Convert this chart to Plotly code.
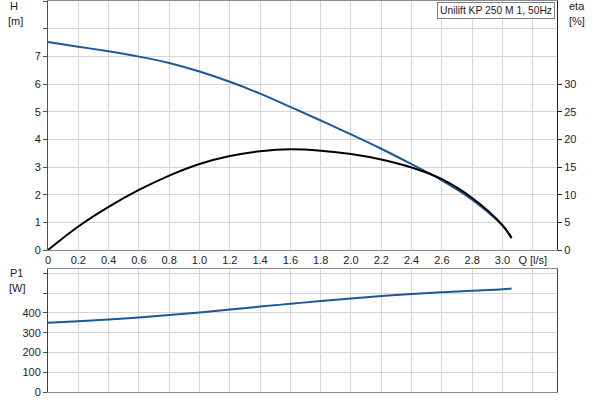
import plotly.graph_objects as go

# Data
q = [0.0, 0.2, 0.4, 0.6, 0.8, 1.0, 1.2, 1.4, 1.6, 1.8, 2.0, 2.2, 2.4, 2.6, 2.8, 3.0, 3.06]
head_m = [7.52, 7.35, 7.18, 6.99, 6.76, 6.45, 6.08, 5.65, 5.17, 4.68, 4.18, 3.66, 3.10, 2.52, 1.82, 0.88, 0.42]
eta_pct = [0.0, 4.25, 7.8, 10.85, 13.45, 15.55, 17.0, 17.85, 18.2, 17.95, 17.35, 16.35, 14.9, 12.8, 9.4, 4.5, 2.2]
p1_w = [350, 358, 367, 377, 389, 402, 417, 432, 446, 460, 473, 485, 496, 505, 512, 519, 523]

x_tickvals = [0.0, 0.2, 0.4, 0.6, 0.8, 1.0, 1.2, 1.4, 1.6, 1.8, 2.0, 2.2, 2.4, 2.6, 2.8, 3.0, 3.2]
x_ticktext = ["0", "0.2", "0.4", "0.6", "0.8", "1.0", "1.2", "1.4", "1.6", "1.8", "2.0", "2.2",
              "2.4", "2.6", "2.8", "3.0", "Q [l/s]"]
h_tickvals = [0, 1, 2, 3, 4, 5, 6, 7, 8, 9]
h_ticktext = ["0", "1", "2", "3", "4", "5", "6", "7", "", ""]
eta_tickvals = [0, 5, 10, 15, 20, 25, 30]
p_tickvals = [0, 100, 200, 300, 400, 500, 600]
p_ticktext = ["0", "100", "200", "300", "400", "", ""]
title_text = "Unilift KP 250 M 1, 50Hz"

BLUE = "#1b5896"
GRID = "#d6d6d6"
FONT = "Liberation Sans, Arial, sans-serif"

ML, MR, MT, MB = 48, 43, 1, 8

fig = go.Figure()
fig.add_trace(go.Scatter(x=q, y=head_m, mode="lines", line=dict(color=BLUE, width=2, shape="spline"),
                         xaxis="x", yaxis="y", showlegend=False))
fig.add_trace(go.Scatter(x=q, y=eta_pct, mode="lines", line=dict(color="#000000", width=2, shape="spline"),
                         xaxis="x", yaxis="y2", showlegend=False))
fig.add_trace(go.Scatter(x=q, y=p1_w, mode="lines", line=dict(color=BLUE, width=2, shape="spline"),
                         xaxis="x2", yaxis="y3", showlegend=False))

axis_common = dict(showgrid=True, gridcolor=GRID, gridwidth=1, zeroline=False,
                   tickfont=dict(size=11, color="#222", family=FONT))

ph = 400 - MT - MB
top_bottom_px = 250
bot_top_px = 269

fig.update_layout(
    width=600, height=400,
    margin=dict(l=ML, r=MR, t=MT, b=MB, autoexpand=False),
    paper_bgcolor="white", plot_bgcolor="white",
    font=dict(family=FONT, size=11, color="#222"),
    xaxis=dict(domain=[0, 1], range=[0, 3.36], tickvals=x_tickvals, ticktext=x_ticktext,
               anchor="y", showline=True, linecolor="#8a8a8a", linewidth=1, mirror=True,
               ticks="", automargin=False, **axis_common),
    yaxis=dict(domain=[(400 - MB - top_bottom_px) / ph, 1.0], range=[0, 9], tickvals=h_tickvals,
               ticktext=h_ticktext, anchor="x", showline=True, linecolor="#505050", linewidth=1,
               ticks="outside", ticklen=4, tickcolor="#505050", automargin=False, **axis_common),
    yaxis2=dict(overlaying="y", side="right", range=[0, 45], tickvals=eta_tickvals,
                anchor="x", showline=True, linecolor="#202020", linewidth=1, showgrid=False,
                zeroline=False, ticks="outside", ticklen=4, tickcolor="#202020", automargin=False,
                tickfont=dict(size=11, color="#222", family=FONT)),
    xaxis2=dict(domain=[0, 1], range=[0, 3.36], tickvals=x_tickvals, showticklabels=False,
                anchor="y3", showline=True, linecolor="#8a8a8a", linewidth=1, mirror=True,
                ticks="", automargin=False, **axis_common),
    yaxis3=dict(domain=[0, (400 - MB - bot_top_px) / ph], range=[0, 622], tickvals=p_tickvals,
                ticktext=p_ticktext, anchor="x2", showline=True, linecolor="#404040", linewidth=1,
                mirror=True, ticks="outside", ticklen=4, tickcolor="#505050", automargin=False,
                **axis_common),
)

pw = 600 - ML - MR


def px(xp):
    return (xp - ML) / pw


def py(yp):
    return (400 - MB - yp) / ph


anns = [dict(text=title_text, xref="paper", yref="paper", x=1.0, y=1.0, xanchor="right", yanchor="top",
             xshift=-2, yshift=-1, showarrow=False, bgcolor="white", bordercolor="#808080", borderwidth=1,
             borderpad=2, font=dict(size=10.3, color="#222", family=FONT))]
labels = [("H", 14, 6), ("[m]", 15, 21), ("eta", 577, 6), ("[%]", 577, 21),
          ("P1", 16, 273), ("[W]", 17, 288)]
for t, xp, yp in labels:
    anns.append(dict(text=t, xref="paper", yref="paper", x=px(xp), y=py(yp), xanchor="center",
                     yanchor="middle", showarrow=False, font=dict(size=11, color="#222", family=FONT)))
fig.update_layout(annotations=anns)

fig.write_html("out.html", config={"displayModeBar": False},
               post_script="document.body.style.margin='0px';")
